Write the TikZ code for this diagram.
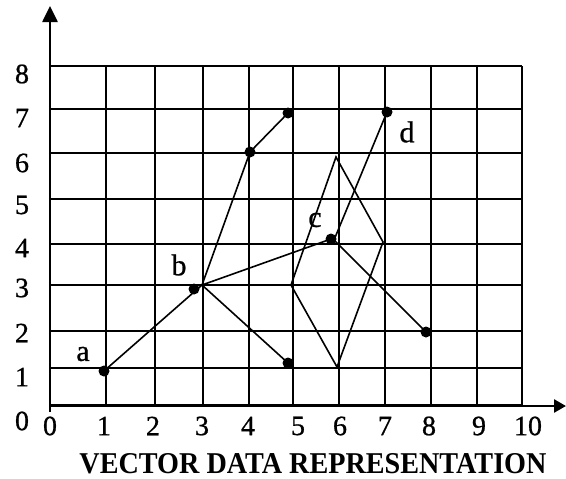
\documentclass[tikz,border=0pt]{standalone}
\usepackage{fontspec}
\setmainfont{Liberation Serif}
\newfontfamily\numfont[FakeBold=0.8]{Liberation Serif}
\usetikzlibrary{arrows.meta}
\begin{document}
\begin{tikzpicture}[x=1pt,y=-1pt,
  gridline/.style={line width=1.8pt},
  axisline/.style={line width=2.6pt},
  feature/.style={line width=1.6pt},
  dot/.style={circle,fill=black,inner sep=0pt,minimum size=11pt},
  num/.style={font=\numfont\fontsize{28}{28}\selectfont,inner sep=0pt},
  lbl/.style={font=\numfont\fontsize{30}{30}\selectfont,inner sep=0pt}]
\useasboundingbox (0,0) rectangle (566,479);
% grid
\foreach \xx in {50,106,155,203,249,293,339,385,431,477,522}
  \draw[gridline] (\xx,66) -- (\xx,405);
\foreach \yy in {66,109,153,199,244,285,331,368,405}
  \draw[gridline] (50,\yy) -- (522,\yy);
% axes
\coordinate (o) at (50,412);
\coordinate (ytip) at (50,6);
\coordinate (xo) at (50,406);
\coordinate (xtip) at (566,406);
\draw[axisline,-{Triangle[length=16pt,width=15pt]}] (o) -- (ytip);
\draw[axisline,-{Triangle[length=12pt,width=13pt]}] (xo) -- (xtip);
% axis numbers
\foreach \t/\xx in {0/50,1/104,2/153,3/202,4/248,5/298,6/340,7/385,8/429,9/479,10/528}
  \node[num] (x\t) at (\xx,426) {\t};
\foreach \t/\yy in {8/74,7/118,6/163,5/205,4/248,3/288,2/333,1/377,0/421}
  \node[num] (y\t) at (22,\yy) {\t};
% points
\node[dot] (a) at (104,371) {};
\node[dot] (b) at (194,289) {};
\node[dot] (p6) at (250,152) {};
\node[dot] (p7) at (288,113) {};
\node[dot] (p1) at (288,363) {};
\node[dot] (c) at (331,239) {};
\node[dot] (d) at (387,112) {};
\node[dot] (p2) at (426,332) {};
\coordinate (bv) at (202,285);
\coordinate (cv) at (334,240);
\coordinate (qt) at (336,157);
\coordinate (qr) at (383,242);
\coordinate (qb) at (337,367);
\coordinate (ql) at (291,285);
% lines
\draw[feature] (a.center) -- (bv);
\draw[feature] (bv) -- (p6.center) -- (p7.center);
\draw[feature] (bv) -- (c.center);
\draw[feature] (bv) -- (p1.center);
\draw[feature] (cv) -- (p2.center);
\draw[feature] (cv) -- (d.center);
\draw[feature,line join=miter] (qt) -- (qr) -- (qb) -- (ql) -- cycle;
% labels
\node[lbl] (la) at (83,354) {a};
\node[lbl] (lb) at (179,265) {b};
\node[lbl] (lc) at (315,220) {c};
\node[lbl] (ld) at (407,132) {d};
% title
\node[inner sep=0pt] (title) at (313,464)
  {\resizebox{467pt}{20pt}{\bfseries VECTOR DATA REPRESENTATION}};
\end{tikzpicture}
\end{document}
